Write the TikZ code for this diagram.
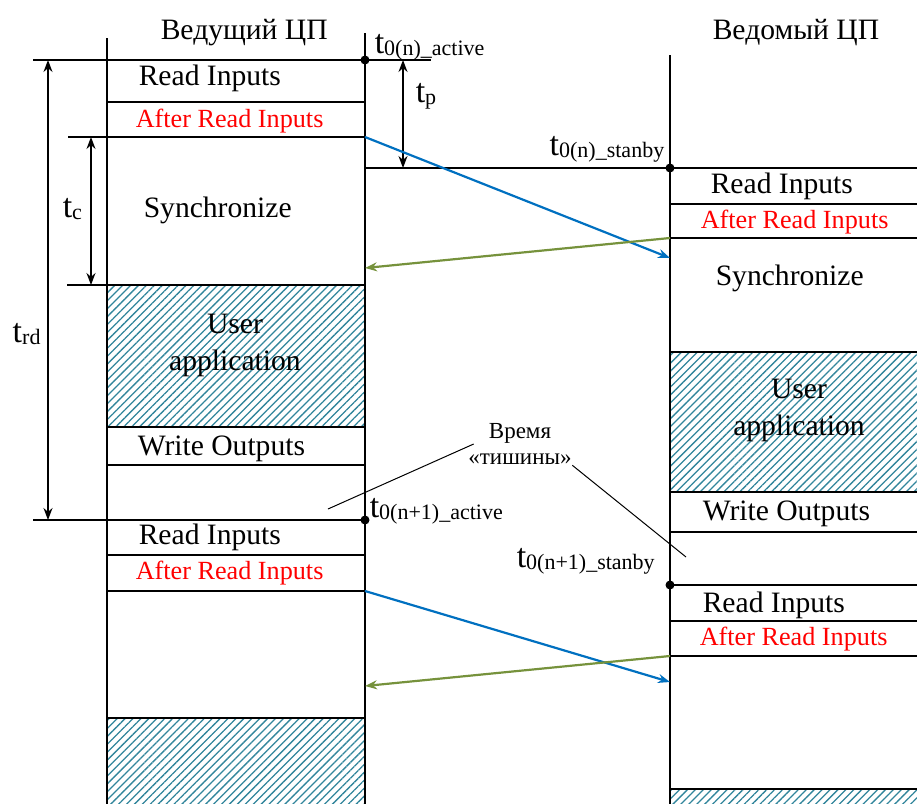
\documentclass[tikz,border=0pt]{standalone}
\usepackage{fontspec}
\setmainfont{Liberation Serif}
\usetikzlibrary{arrows.meta,patterns.meta}
\definecolor{hatchteal}{RGB}{49,133,155}
\definecolor{msgblue}{RGB}{0,112,192}
\definecolor{ackgreen}{RGB}{118,146,60}
\newcommand{\tsub}[1]{{\fontsize{17}{17}\selectfont t}\raisebox{-1pt}{\fontsize{11}{11}\selectfont #1}}

\begin{document}
\begin{tikzpicture}[>={Stealth[length=6pt,width=4.5pt]}, x=0.5pt, y=-0.5pt, line width=0.75pt,
  txt/.style={anchor=base west, inner sep=0pt, font=\fontsize{14.8}{18.5}\selectfont},
  redtxt/.style={txt, text=red, font=\fontsize{13.1}{16}\selectfont},
  tl/.style={anchor=base west, inner sep=0pt},
  hatch/.style={pattern={Lines[angle=45,distance=2.8pt,line width=0.65pt]}, pattern color=hatchteal},
  dot/.style={circle, fill, inner sep=0pt, minimum size=4.5pt},
  msg/.style={->, msgblue, line width=1.1pt},
  ack/.style={->, ackgreen, line width=1.1pt},
  lead/.style={line width=0.5pt}]
\useasboundingbox (0,0) rectangle (917,804);

% hatched slices
\fill[hatch] (107,285) rectangle (365,427);
\fill[hatch] (107,718) rectangle (365,804);
\fill[hatch] (670,352) rectangle (917,492);
\fill[hatch] (670,789) rectangle (917,804);

% time axes
\draw (107,38) -- (107,804);
\draw (365,33) -- (365,804);
\draw (670,55) -- (670,804);

% master slices
\draw (33,60) -- (431,60);
\draw (68,137) -- (365,137);
\draw (67,285) -- (365,285);
\draw (33,520) -- (365,520);
\foreach \y in {102,427,465,555,591,718}
  \draw (107,\y) -- (365,\y);

% standby slices
\draw (365,168) -- (917,168);
\foreach \y in {204,238,352,492,532,585,621,656,789}
  \draw (670,\y) -- (917,\y);

% headers
\node[txt] (hm) at (160,39) {Ведущий ЦП};
\node[txt] (hs) at (712,39) {Ведомый ЦП};

% master texts
\node[txt] (ri1) at (138,85) {Read Inputs};
\node[redtxt] (ar1) at (135,127) {After Read Inputs};
\node[txt] (sy1) at (143,217) {Synchronize};
\node[txt, anchor=center, align=center] (ua1) at (235,345) {User\\application};
\node[txt] (wo1) at (137,455) {Write Outputs};
\node[txt] (ri2) at (138,544) {Read Inputs};
\node[redtxt] (ar2) at (135,579) {After Read Inputs};

% standby texts
\node[txt] (ri3) at (710,193) {Read Inputs};
\node[redtxt] (ar3) at (700,228) {After Read Inputs};
\node[txt] (sy3) at (715,285) {Synchronize};
\node[txt, anchor=center, align=center] (ua3) at (799,410) {User\\application};
\node[txt] (wo3) at (702,520) {Write Outputs};
\node[txt] (ri4) at (702,612) {Read Inputs};
\node[redtxt] (ar4) at (699,645) {After Read Inputs};

% start points
\node[dot] (a0) at (365,60) {};
\node[dot] (a1) at (365,520) {};
\node[dot] (s0) at (670,168) {};
\node[dot] (s1) at (670,585) {};

\node[tl] (ta0) at (374,53) {\tsub{0(n)\_active}};
\node[tl, anchor=base east] (ts0) at (665,155) {\tsub{0(n)\_stanby}};
\node[tl] (ta1) at (369,517) {\tsub{0(n+1)\_active}};
\node[tl] (ts1) at (516,567) {\tsub{0(n+1)\_stanby}};

% durations
\coordinate (rdtop) at (48,60);
\coordinate (rdbot) at (48,520);
\coordinate (ctop) at (91,137);
\coordinate (cbot) at (91,285);
\coordinate (ptop) at (403,60);
\coordinate (pbot) at (403,168);
\draw[<->] (rdtop) -- (rdbot);
\draw[<->] (ctop) -- (cbot);
\draw[<->] (ptop) -- (pbot);
\node[tl] (trd) at (12,342) {\tsub{rd}};
\node[tl] (tc) at (62,217) {\tsub{c}};
\node[tl] (tp) at (415,102) {\tsub{p}};

% data exchange
\coordinate (m0) at (365,137);
\coordinate (m0e) at (670,258);
\coordinate (k0) at (670,238);
\coordinate (k0e) at (365,268);
\coordinate (m1) at (365,591);
\coordinate (m1e) at (670,682);
\coordinate (k1) at (670,656);
\coordinate (k1e) at (365,686);
\draw[msg] (m0) -- (m0e);
\draw[ack] (k0) -- (k0e);
\draw[msg] (m1) -- (m1e);
\draw[ack] (k1) -- (k1e);

% quiet time
\node[inner sep=0pt, align=center, font=\fontsize{11.5}{13}\selectfont] (quiet) at (520,444) {Время\\«тишины»};
\coordinate (q1) at (328,509);
\coordinate (q2) at (686,557);
\draw[lead] (q1) -- ([xshift=3pt]quiet.west);
\draw[lead] (quiet.south east) -- (q2);
\end{tikzpicture}
\end{document}
